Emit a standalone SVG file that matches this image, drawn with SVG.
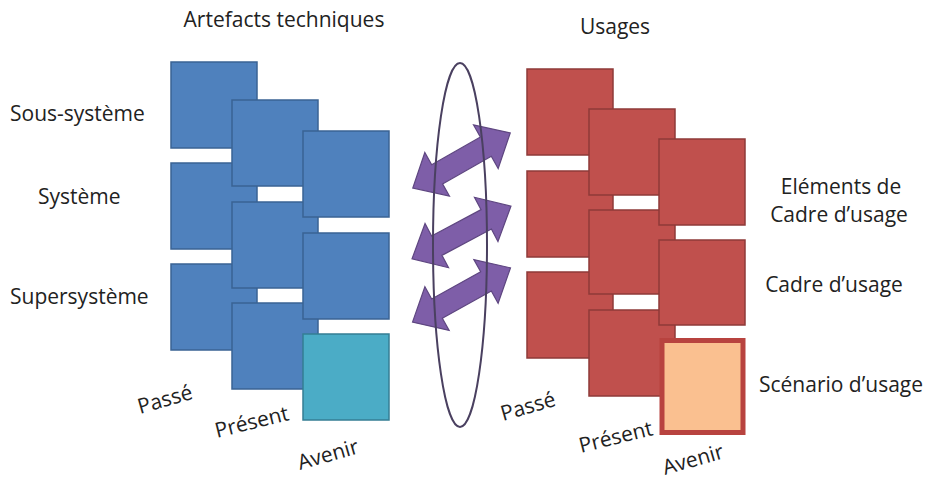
<svg xmlns="http://www.w3.org/2000/svg" width="928" height="482" viewBox="0 0 928 482">
<defs>
<style>
text{font-family:"Open Sans","Liberation Sans",sans-serif;font-size:21px;fill:#222;}
.b{fill:#4F81BD;stroke:#3A6394;stroke-width:1.5;}
.t{fill:#4BACC6;stroke:#357E94;stroke-width:1.5;}
.r{fill:#C0504D;stroke:#8E3A38;stroke-width:1.5;}
.p{fill:#FAC090;stroke:#B8433F;stroke-width:5;}
.arr{fill:#7E5EA8;stroke:#5E4680;stroke-width:1.2;}
.ring{fill:none;stroke:#4A4060;stroke-width:2;}
</style>
<path id="dbl" d="M-56,0 L-28,-25 L-28,-11 L28,-11 L28,-25 L56,0 L28,25 L28,11 L-28,11 L-28,25 Z"/>
</defs>
<rect width="928" height="482" fill="#fff"/>

<g id="titles">
<text x="284" y="27" text-anchor="middle">Artefacts techniques</text>
<text x="615" y="34" text-anchor="middle">Usages</text>
</g>

<g id="left-labels">
<text x="10" y="121">Sous-système</text>
<text x="38" y="204">Système</text>
<text x="10" y="304">Supersystème</text>
</g>

<g id="right-labels">
<text x="841" y="194" text-anchor="middle">Eléments de</text>
<text x="839" y="222" text-anchor="middle">Cadre d’usage</text>
<text x="834" y="292" text-anchor="middle">Cadre d’usage</text>
<text x="841" y="392" text-anchor="middle">Scénario d’usage</text>
</g>

<g id="time-labels-left">
<text transform="translate(140,414) rotate(-16)">Passé</text>
<text transform="translate(217,438) rotate(-14)">Présent</text>
<text transform="translate(300,470) rotate(-16)">Avenir</text>
</g>
<g id="time-labels-right">
<text transform="translate(503,421) rotate(-16)">Passé</text>
<text transform="translate(581,453) rotate(-14)">Présent</text>
<text transform="translate(665,475) rotate(-16)">Avenir</text>
</g>

<g id="artefacts">
<g id="a-passe-sous"><rect class="b" x="171" y="62" width="86" height="86"/></g>
<g id="a-passe-sys"><rect class="b" x="171" y="163" width="86" height="86"/></g>
<g id="a-passe-super"><rect class="b" x="171" y="264" width="86" height="86"/></g>
<g id="a-present-sous"><rect class="b" x="232" y="100" width="86" height="86"/></g>
<g id="a-present-sys"><rect class="b" x="232" y="202" width="86" height="86"/></g>
<g id="a-present-super"><rect class="b" x="232" y="303" width="86" height="86"/></g>
<g id="a-avenir-sous"><rect class="b" x="303" y="131" width="86" height="86"/></g>
<g id="a-avenir-sys"><rect class="b" x="303" y="233" width="86" height="86"/></g>
<g id="a-avenir-super"><rect class="t" x="303" y="334" width="86" height="86"/></g>
</g>

<g id="usages">
<g id="u-passe-1"><rect class="r" x="527" y="69" width="86" height="86"/></g>
<g id="u-passe-2"><rect class="r" x="527" y="171" width="86" height="86"/></g>
<g id="u-passe-3"><rect class="r" x="527" y="272" width="86" height="86"/></g>
<g id="u-present-1"><rect class="r" x="589" y="109" width="86" height="86"/></g>
<g id="u-present-2"><rect class="r" x="589" y="210" width="86" height="84"/></g>
<g id="u-present-3"><rect class="r" x="589" y="310" width="86" height="86"/></g>
<g id="u-avenir-1"><rect class="r" x="659" y="139" width="86" height="86"/></g>
<g id="u-avenir-2"><rect class="r" x="659" y="240" width="86" height="85"/></g>
<g id="u-avenir-3"><rect class="p" x="662" y="340.5" width="81" height="92"/></g>
</g>

<g id="connectors">
<use href="#dbl" class="arr" transform="translate(461.5,160.5) rotate(-29.5)"/>
<use href="#dbl" class="arr" transform="translate(461.5,232.5) rotate(-28)"/>
<use href="#dbl" class="arr" transform="translate(461.5,295) rotate(-29)"/>
<ellipse class="ring" cx="460" cy="245" rx="27" ry="182"/>
</g>
</svg>
